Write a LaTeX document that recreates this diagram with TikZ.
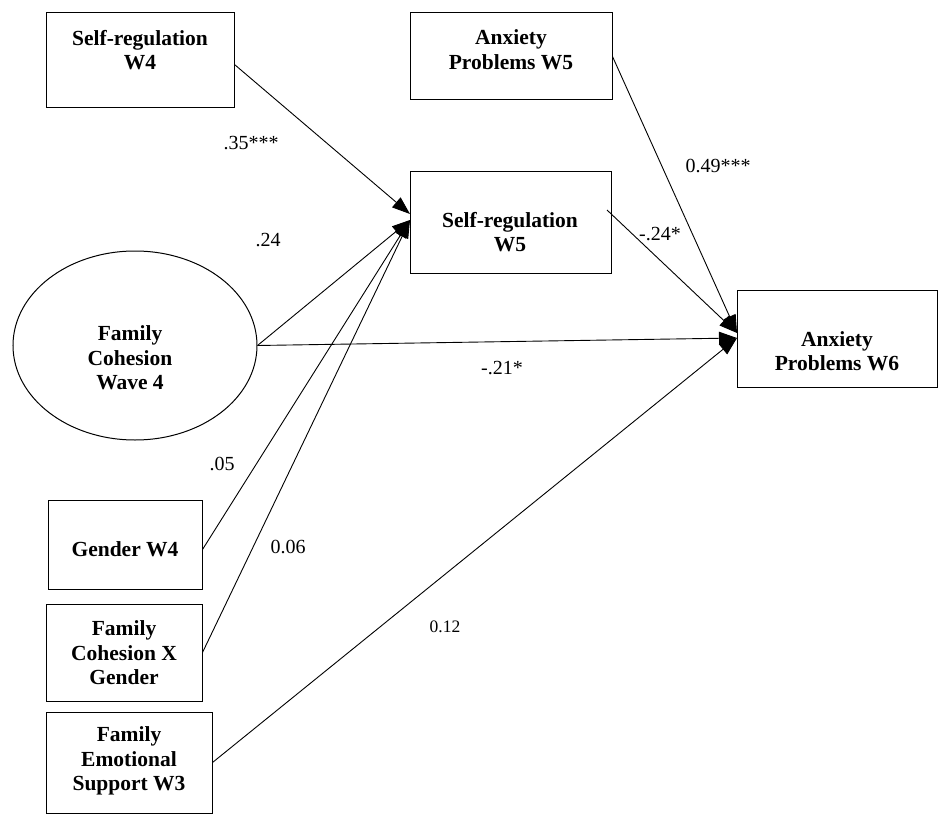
\documentclass[tikz,border=0pt]{standalone}
\usepackage{fontspec}
\setmainfont{Liberation Serif}
\usetikzlibrary{arrows.meta,shapes.geometric}
\begin{document}
\begin{tikzpicture}[x=1pt,y=-1pt,
  boxstyle/.style={draw,line width=1pt,inner sep=0pt},
  vartext/.style={font=\fontsize{21.5}{24.5}\selectfont\bfseries,align=center,inner sep=0pt},
  coef/.style={font=\fontsize{20}{22}\selectfont,inner sep=0pt},
  path/.style={line width=0.9pt,-{Triangle[length=18pt,width=13pt]}},
  ]
\useasboundingbox (0,0) rectangle (940,824);
% boxes
\node[boxstyle,minimum width=188pt,minimum height=95pt] (srw4) at (140,60.5) {};
\node[boxstyle,minimum width=202pt,minimum height=87pt] (aw5) at (511,56.5) {};
\node[boxstyle,minimum width=201pt,minimum height=101pt] (srw5) at (510.5,222.5) {};
\node[boxstyle,minimum width=200pt,minimum height=97pt] (aw6) at (837,338.5) {};
\node[draw,line width=1pt,ellipse,minimum width=244pt,minimum height=189pt,inner sep=0pt] (fc) at (135,345.5) {};
\node[boxstyle,minimum width=154pt,minimum height=89pt] (gen) at (125,544.5) {};
\node[boxstyle,minimum width=156pt,minimum height=97pt] (fcg) at (124,652.5) {};
\node[boxstyle,minimum width=166pt,minimum height=101pt] (fes) at (129,762.5) {};
% box texts
\node[vartext] (t1) at (140,50) {Self-regulation\\W4};
\node[vartext] (t2) at (511,49.5) {Anxiety\\Problems W5};
\node[vartext] (t3) at (510,232) {Self-regulation\\W5};
\node[vartext] (t4) at (837,351) {Anxiety\\Problems W6};
\node[vartext] (t5) at (130,358) {Family\\Cohesion\\Wave 4};
\node[vartext] (t6) at (125,549) {Gender W4};
\node[vartext] (t7) at (124,653) {Family\\Cohesion X\\Gender};
\node[vartext] (t8) at (129,761) {Family\\Emotional\\Support W3};
% arrow end points
\coordinate (inA) at (410,214);
\coordinate (inB) at (410,220);
\coordinate (outA) at (607,210);
\coordinate (inC) at (737,333);
\coordinate (inD) at (737,338);
% paths
\draw[path] (srw4.east) ++(0,4) -- (inA);
\draw[path] (fc.east) -- (inB);
\draw[path] (gen.east) ++(0,5) -- (inB);
\draw[path] (fcg.east) -- (inB);
\draw[path] (aw5.east) -- (inC);
\draw[path] (outA) -- (inC);
\draw[path] (fc.east) -- (inD);
\draw[path] (fes.east) -- (inD);
% coefficients
\node[coef] (c1) at (251,143) {.35***};
\node[coef] (c2) at (268,240) {.24};
\node[coef] (c3) at (222,464) {.05};
\node[coef] (c4) at (288,547) {0.06};
\node[coef,font=\fontsize{17.5}{20}\selectfont] (c5) at (445,627) {0.12};
\node[coef] (c6) at (718,166) {0.49***};
\node[coef] (c7) at (660,234) {-.24*};
\node[coef] (c8) at (502,368) {-.21*};
\end{tikzpicture}
\end{document}
